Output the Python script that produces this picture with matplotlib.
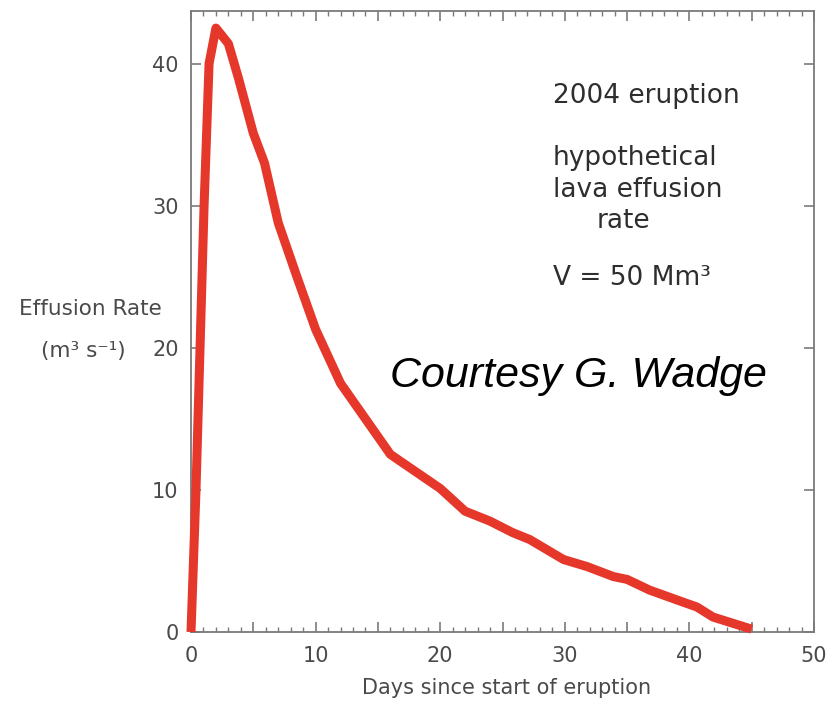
import matplotlib
matplotlib.use("Agg")
import matplotlib.pyplot as plt
from matplotlib.ticker import MultipleLocator, FuncFormatter

days = [0, 0.4, 1.05, 1.45, 2.0, 3.0, 3.8, 5.0, 5.9, 7.0, 8.5, 10.0, 12.0, 14.0, 16.0,
        18.0, 20.0, 22.0, 24.0, 25.8, 27.2, 29.9, 31.8, 33.9, 35.0, 36.8, 39.5, 40.6,
        41.9, 45.0]
rate = [0, 10, 30, 40, 42.5, 41.4, 39.0, 35.1, 33.0, 28.8, 25.0, 21.3, 17.5, 15.0, 12.5,
        11.3, 10.1, 8.5, 7.8, 7.0, 6.5, 5.1, 4.6, 3.9, 3.7, 2.95, 2.1, 1.76, 1.05, 0.2]

FONT = ["DejaVu Sans"]
plt.rcParams["font.family"] = FONT

W, H = 832, 703
fig = plt.figure(figsize=(W / 100, H / 100), dpi=100)
ax = fig.add_axes([191 / W, 1 - 632 / H, (814 - 191) / W, (632 - 11) / H])

ax.plot(days, rate, color="#e6372b", lw=6.5, solid_joinstyle="round",
        solid_capstyle="butt", clip_on=False, zorder=3)

ax.set_xlim(0, 50)
ax.set_ylim(0, 43.7)

spine_c = "#7a7a7a"
for s in ax.spines.values():
    s.set_color(spine_c)
    s.set_linewidth(1.3)

ax.xaxis.set_major_locator(MultipleLocator(5))
ax.xaxis.set_minor_locator(MultipleLocator(1))
ax.xaxis.set_major_formatter(FuncFormatter(lambda v, p: f"{int(round(v))}" if int(round(v)) % 10 == 0 else ""))
ax.yaxis.set_major_locator(MultipleLocator(10))

ax.tick_params(which="both", direction="in", top=True, right=True,
               color=spine_c, labelcolor="#4a4a4a", labelsize=15)
ax.tick_params(which="major", length=7, width=1.2)
ax.tick_params(axis="y", which="major", pad=9)
ax.tick_params(axis="x", which="major", pad=10)
ax.tick_params(which="minor", length=3.5, width=1.0)

lc = "#4a4a4a"
fig.text(507 / W, 1 - 694 / H, "Days since start of eruption", ha="center", va="baseline",
         fontsize=15, color=lc)
fig.text(90 / W, 1 - 315 / H, "Effusion Rate", ha="center", va="baseline",
         fontsize=15.5, color=lc)
fig.text(83 / W, 1 - 357 / H, "(m\u00b3 s\u207b\u00b9)", ha="center", va="baseline",
         fontsize=15.5, color=lc)

tc = "#2e2e2e"
fig.text(553 / W, 1 - 103 / H, "2004 eruption", ha="left", va="baseline", fontsize=19, color=tc)
fig.text(553 / W, 1 - 165 / H, "hypothetical", ha="left", va="baseline", fontsize=19, color=tc)
fig.text(553 / W, 1 - 197 / H, "lava effusion", ha="left", va="baseline", fontsize=19, color=tc)
fig.text(597 / W, 1 - 228 / H, "rate", ha="left", va="baseline", fontsize=19, color=tc)
fig.text(553 / W, 1 - 285 / H, "V = 50 Mm\u00b3", ha="left", va="baseline", fontsize=19, color=tc)

fig.text(390 / W, 1 - 387 / H, "Courtesy G. Wadge", ha="left", va="baseline", fontsize=31,
         style="italic", color="black", family=["Liberation Sans", "DejaVu Sans"])

fig.savefig("out.png", dpi=100, facecolor="white")
